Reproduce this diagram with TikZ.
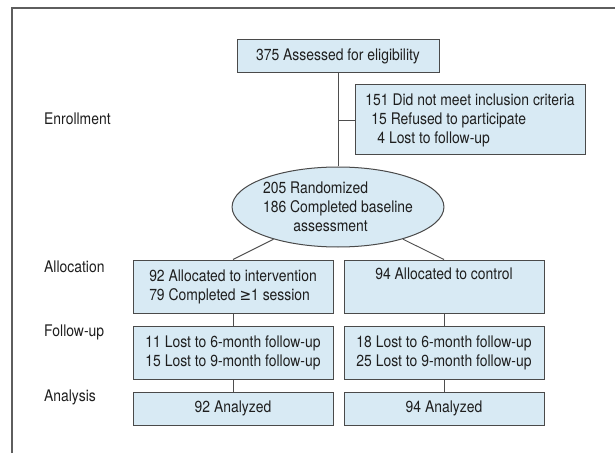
\documentclass[tikz,border=0pt]{standalone}
\usepackage{fontspec}
\setmainfont{TeX Gyre Heros}[FakeStretch=0.87]
\newfontfamily\symfont{DejaVu Sans}[FakeStretch=0.87]
\usetikzlibrary{positioning,shapes.geometric}
\definecolor{cboxfill}{HTML}{D8EAF4}
\definecolor{cboxline}{HTML}{4A4A4A}
\definecolor{cframe}{HTML}{5E5E5E}
\definecolor{clink}{HTML}{4E4E4E}
\definecolor{ctext}{HTML}{1E1E1E}

\begin{document}
\begin{tikzpicture}[
    x=1pt, y=1pt,
    font=\fontsize{16}{19}\selectfont,
    flowbox/.style={
        draw=cboxline, fill=cboxfill, line width=1pt,
        minimum width=200pt, inner sep=3pt, text=ctext,
    },
    stagelabel/.style={anchor=west, text=ctext, inner sep=0pt},
    flowlink/.style={clink, line width=0.9pt},
]
\useasboundingbox (0,0) rectangle (615,453);

% ============================================================
% FRAME
% ============================================================
\draw[cframe, line width=2pt] (12,0) -- (12,445) -- (615,445);

% ============================================================
% STAGE LABELS
% ============================================================
\node[stagelabel] (lenroll) at (44,334) {Enrollment};
\node[stagelabel] (lalloc)  at (44,186) {Allocation};
\node[stagelabel] (lfollow) at (44,121) {Follow-up};
\node[stagelabel] (lanalys) at (44,56)  {Analysis};

% ============================================================
% ENROLLMENT
% ============================================================
\node[flowbox, minimum width=202pt, minimum height=33pt]
    (assess) at (338,396.5) {375 Assessed for eligibility};

\node[flowbox, minimum width=230pt, minimum height=70pt, align=left]
    (excl) at (470,333) {
    151 Did not meet inclusion criteria\\
    \hspace*{6pt}15 Refused to participate\\
    \hspace*{12pt}4 Lost to follow-up
};

\node[flowbox, ellipse, minimum width=202pt, minimum height=80pt,
    inner sep=0pt, align=left] (rand) at (338,246) {
    205 Randomized\\
    186 Completed baseline\\
    \hspace*{1.9em}assessment
};

\draw[flowlink] (assess.south) -- (rand.north);
\draw[flowlink] (excl.west) -- (assess.south |- excl.west);

% ============================================================
% ALLOCATION
% ============================================================
\node[flowbox, minimum height=53pt, align=left]
    (alint) at (233,166.5) {
    92 Allocated to intervention\\
    79 Completed {\symfont ≥}1 session
};
\node[flowbox, minimum height=53pt, align=center,
    right=10pt of alint] (alctrl) {
    94 Allocated to control\\ \strut
};

\draw[flowlink] (alint.north) -- (rand);
\draw[flowlink] (alctrl.north) -- (rand);

% ============================================================
% FOLLOW-UP
% ============================================================
\node[flowbox, minimum height=53pt, align=left,
    below=12pt of alint] (fuint) {
    11 Lost to 6-month follow-up\\
    15 Lost to 9-month follow-up
};
\node[flowbox, minimum height=53pt, align=left,
    below=12pt of alctrl] (fuctrl) {
    18 Lost to 6-month follow-up\\
    25 Lost to 9-month follow-up
};
\draw[flowlink] (alint) -- (fuint);
\draw[flowlink] (alctrl) -- (fuctrl);

% ============================================================
% ANALYSIS
% ============================================================
\node[flowbox, minimum height=33pt, below=12pt of fuint] (anint) {92 Analyzed};
\node[flowbox, minimum height=33pt, below=12pt of fuctrl] (anctrl) {94 Analyzed};
\draw[flowlink] (fuint) -- (anint);
\draw[flowlink] (fuctrl) -- (anctrl);

\end{tikzpicture}
\end{document}
